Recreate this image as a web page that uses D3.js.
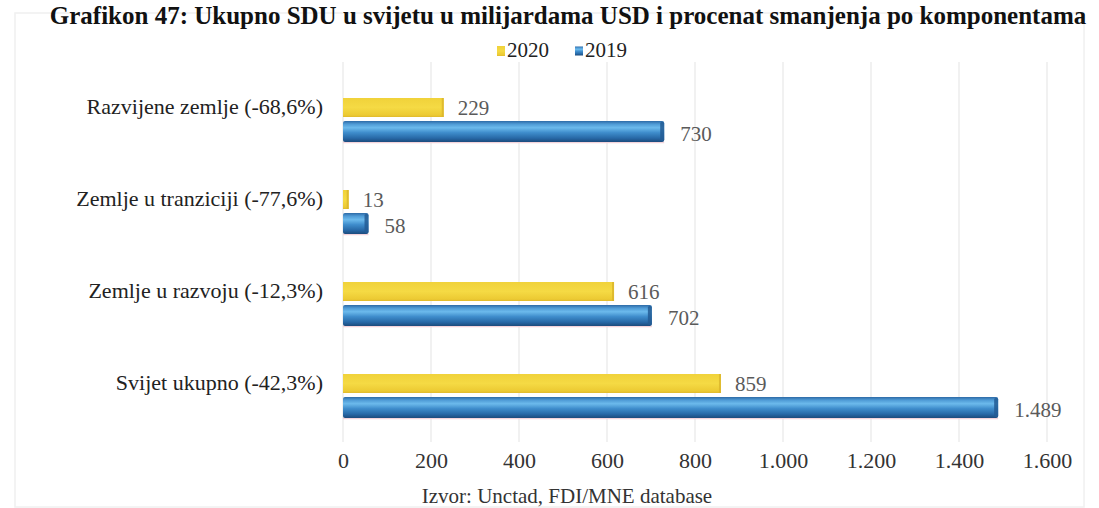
<!DOCTYPE html>
<html>
<head>
<meta charset="utf-8">
<script src="https://cdn.jsdelivr.net/npm/d3@7"></script>
<style>
  html, body { margin: 0; padding: 0; background: #fff; }
  svg { display: block; font-family: "Liberation Serif", "Times New Roman", serif; }
</style>
</head>
<body>
<svg id="chart" width="1099" height="508"></svg>
<script>
// ---- data ----
const titleText = "Grafikon 47: Ukupno SDU u svijetu u milijardama USD i procenat smanjenja po komponentama";
const sourceText = "Izvor: Unctad, FDI/MNE database";
const categories = [
  "Razvijene zemlje (-68,6%)",
  "Zemlje u tranziciji (-77,6%)",
  "Zemlje u razvoju (-12,3%)",
  "Svijet ukupno (-42,3%)"
];
const seriesNames = ["2020", "2019"];
const values2020 = [229, 13, 616, 859];
const values2019 = [730, 58, 702, 1489];
const xTicks = [0, 200, 400, 600, 800, 1000, 1200, 1400, 1600];

// ---- setup ----
const svg = d3.select("#chart");
const W = 1099, H = 508;
const locale = d3.formatLocale({ decimal: ",", thousands: ".", grouping: [3], currency: ["", ""] });
const fmt = locale.format(",d");

const defs = svg.append("defs");
const gBlue = defs.append("linearGradient").attr("id", "gBlue").attr("x1", 0).attr("y1", 0).attr("x2", 0).attr("y2", 1);
[[0, "#2d6aa6"], [0.15, "#4f9bd6"], [0.32, "#6cbaec"], [0.55, "#3f8dcc"], [0.82, "#2768a6"], [1, "#1c4b7c"]]
  .forEach(([o, c]) => gBlue.append("stop").attr("offset", o).attr("stop-color", c));
const gYellow = defs.append("linearGradient").attr("id", "gYellow").attr("x1", 0).attr("y1", 0).attr("x2", 0).attr("y2", 1);
[[0, "#f0d23a"], [0.5, "#f5da44"], [0.9, "#ecca33"], [1, "#e0b92c"]]
  .forEach(([o, c]) => gYellow.append("stop").attr("offset", o).attr("stop-color", c));

// chart frame (faint)
svg.append("rect").attr("x", 15).attr("y", 13).attr("width", W - 30).attr("height", H - 14)
  .attr("fill", "none").attr("stroke", "#f0f0f0").attr("stroke-width", 1.5);

// title
svg.append("text").attr("x", 568).attr("y", 24).attr("text-anchor", "middle")
  .attr("font-weight", "bold").attr("font-size", 25).attr("fill", "#111")
  .text(titleText);

// scales
const x = d3.scaleLinear().domain([0, 1600]).range([343, 1047]);
const y = d3.scaleBand().domain(categories).range([73, 441]).padding(0);
const mid = d => y(d) + y.bandwidth() / 2;

// gridlines
svg.append("g").selectAll("line").data(xTicks).join("line")
  .attr("x1", d => x(d)).attr("x2", d => x(d))
  .attr("y1", 62).attr("y2", 442)
  .attr("stroke", "#ececec").attr("stroke-width", 1.5);

// x axis (labels only)
const xAxis = d3.axisBottom(x).tickValues(xTicks).tickFormat(fmt).tickSize(0).tickPadding(0);
const ax = svg.append("g").attr("transform", "translate(0,468)").call(xAxis);
ax.select(".domain").remove();
ax.selectAll("text").attr("font-size", 22).attr("fill", "#333")
  .attr("font-family", "Liberation Serif, serif").attr("dy", 0);

// category labels
svg.append("g").selectAll("text").data(categories).join("text")
  .attr("x", 323).attr("y", d => mid(d) - 5)
  .attr("text-anchor", "end")
  .attr("font-size", 22).attr("fill", "#222")
  .text(d => d);

// bars
const rows = categories.map((c, i) => ({ c, v20: values2020[i], v19: values2019[i] }));
const gBars = svg.append("g");
// faint reflection under 2019 bars
gBars.selectAll("line.sh").data(rows).join("line").attr("class", "sh")
  .attr("x1", x(0)).attr("x2", d => x(d.v19))
  .attr("y1", d => mid(d.c) + 23.5).attr("y2", d => mid(d.c) + 23.5)
  .attr("stroke", "#f3d3da").attr("stroke-width", 1.5);
gBars.selectAll("rect.b20").data(rows).join("rect").attr("class", "b20")
  .attr("x", x(0)).attr("width", d => x(d.v20) - x(0))
  .attr("y", d => mid(d.c) - 21).attr("height", 19)
  .attr("fill", "url(#gYellow)");
gBars.selectAll("rect.e20").data(rows).join("rect").attr("class", "e20")
  .attr("x", d => x(d.v20) - 2).attr("width", 2)
  .attr("y", d => mid(d.c) - 21).attr("height", 19)
  .attr("fill", "#d9b42a").attr("opacity", 0.8);
gBars.selectAll("rect.b19").data(rows).join("rect").attr("class", "b19")
  .attr("x", x(0)).attr("width", d => x(d.v19) - x(0))
  .attr("y", d => mid(d.c) + 2).attr("height", 21)
  .attr("rx", 2)
  .attr("fill", "url(#gBlue)");
gBars.selectAll("rect.e19").data(rows).join("rect").attr("class", "e19")
  .attr("x", d => x(d.v19) - 4).attr("width", 4)
  .attr("y", d => mid(d.c) + 3).attr("height", 19)
  .attr("rx", 1.5)
  .attr("fill", "#235c94").attr("opacity", 0.85);

// value labels
gBars.selectAll("text.l20").data(rows).join("text").attr("class", "l20")
  .attr("x", d => x(d.v20) + 14).attr("y", d => mid(d.c) - 4)
  .attr("font-size", 21).attr("fill", "#5a5a5a")
  .text(d => fmt(d.v20));
gBars.selectAll("text.l19").data(rows).join("text").attr("class", "l19")
  .attr("x", d => x(d.v19) + 16).attr("y", d => mid(d.c) + 22)
  .attr("font-size", 21).attr("fill", "#5a5a5a")
  .text(d => fmt(d.v19));

// legend
const leg = svg.append("g").attr("transform", "translate(497,51)");
const legItems = [
  { name: seriesNames[0], fill: "url(#gYellow)", w: 8, h: 10, dx: 0 },
  { name: seriesNames[1], fill: "url(#gBlue)", w: 8, h: 9, dx: 78 }
];
const li = leg.selectAll("g").data(legItems).join("g").attr("transform", d => `translate(${d.dx},0)`);
li.append("rect").attr("x", 0).attr("y", d => -d.h / 2).attr("width", d => d.w).attr("height", d => d.h).attr("fill", d => d.fill);
li.append("text").attr("x", 10).attr("y", 6).attr("font-size", 21).attr("fill", "#222").text(d => d.name);

// source
svg.append("text").attr("x", 567).attr("y", 503).attr("text-anchor", "middle")
  .attr("font-size", 21).attr("fill", "#333").text(sourceText);
</script>
</body>
</html>
